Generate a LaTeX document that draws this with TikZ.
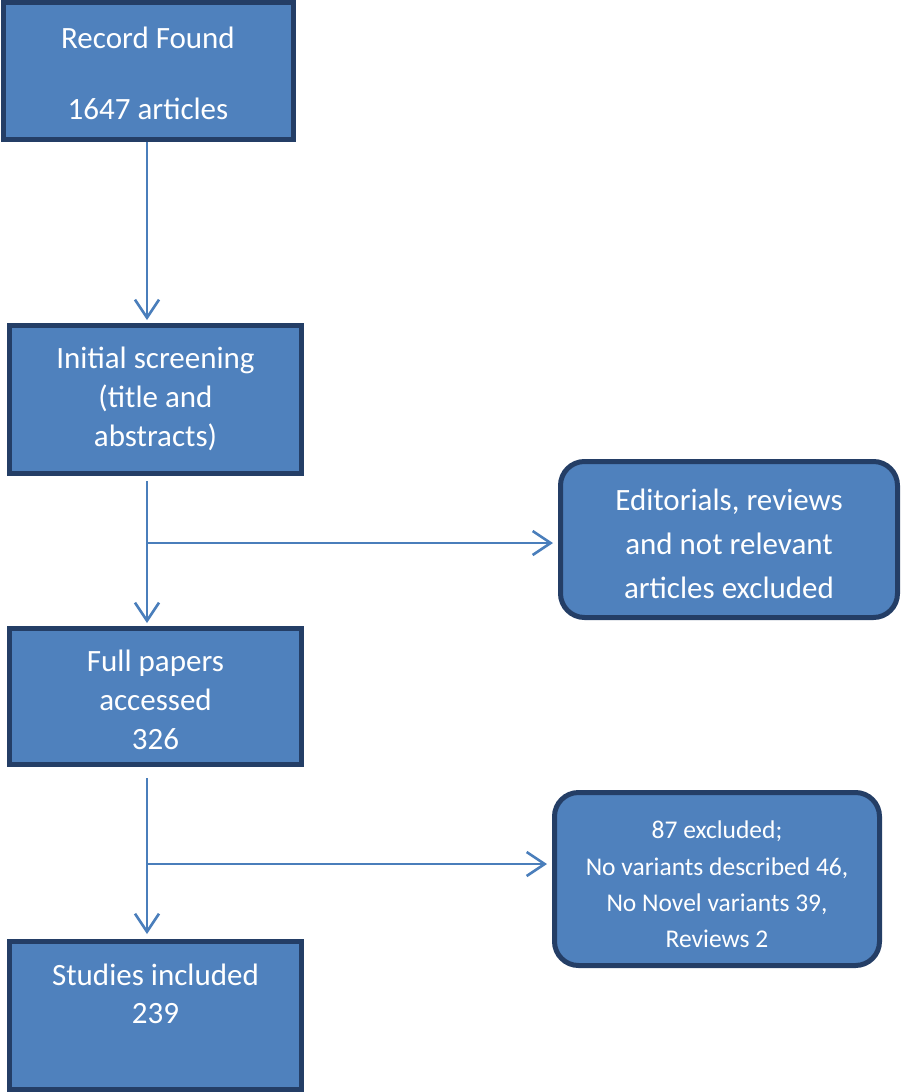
\documentclass[tikz,border=0pt]{standalone}
\usepackage{fontspec}
\setmainfont{Carlito}
\usetikzlibrary{arrows.meta,calc}
\definecolor{boxfill}{RGB}{79,129,189}
\definecolor{boxline}{RGB}{36,62,102}
\definecolor{arrblue}{RGB}{74,126,187}
\tikzset{
  sqbox/.style={draw=boxline, fill=boxfill, line width=5pt, inner sep=0pt},
  rbox/.style={sqbox, rounded corners=24pt},
  txt/.style={text=white, align=center, inner sep=0pt},
  arr/.style={draw=arrblue, line width=2.6pt, -{Straight Barb[length=18pt,width=24pt,line width=2.6pt]}},
  big/.style={txt, font=\fontsize{31}{39}\selectfont},
}
\begin{document}
\begin{tikzpicture}[x=1pt,y=-1pt]
\useasboundingbox (0,0) rectangle (900,1092);
\node[sqbox,minimum width=290pt,minimum height=137pt,
  label={[big,yshift=-2pt]center:Record Found\\[32pt]1647 articles}] (b1) at (148,71) {};
\node[sqbox,minimum width=292pt,minimum height=148pt,
  label={[big,yshift=1pt]center:Initial screening\\(title and\\abstracts)}] (b2) at (155.5,399.5) {};
\node[rbox,minimum width=337pt,minimum height=156pt,
  label={[txt,font=\fontsize{31}{44}\selectfont,yshift=-4pt]center:Editorials, reviews\\and not relevant\\articles excluded}] (b3) at (729,539.5) {};
\node[sqbox,minimum width=292pt,minimum height=136pt,
  label={[big,yshift=-3pt]center:Full papers\\accessed\\326}] (b4) at (155.5,696.5) {};
\node[rbox,minimum width=325pt,minimum height=173pt,
  label={[txt,font=\fontsize{25.5}{36.3}\selectfont,yshift=-5.5pt]center:87 excluded;\\No variants described 46,\\No Novel variants 39,\\Reviews 2}] (b5) at (717,879) {};
\node[sqbox,minimum width=292pt,minimum height=148pt,
  label={[txt,font=\fontsize{31}{38}\selectfont,yshift=21.5pt]center:Studies included\\239}] (b6) at (155.5,1015.5) {};
\coordinate (s1) at (147,0);
\coordinate (j1) at (147,543);
\coordinate (j2) at (147,864);
% arrows
\draw[arr, shorten >=3pt] (b1.south -| s1) -- (b2.north -| s1);
\draw[arr, shorten <=5pt, shorten >=3pt] (b2.south -| s1) -- (b4.north -| s1);
\draw[arr, shorten >=5pt] (j1) -- (j1 -| b3.west);
\draw[arr, shorten <=11pt, shorten >=5pt] (b4.south -| s1) -- (b6.north -| s1);
\draw[arr, shorten >=5pt] (j2) -- (j2 -| b5.west);
\end{tikzpicture}
\end{document}
